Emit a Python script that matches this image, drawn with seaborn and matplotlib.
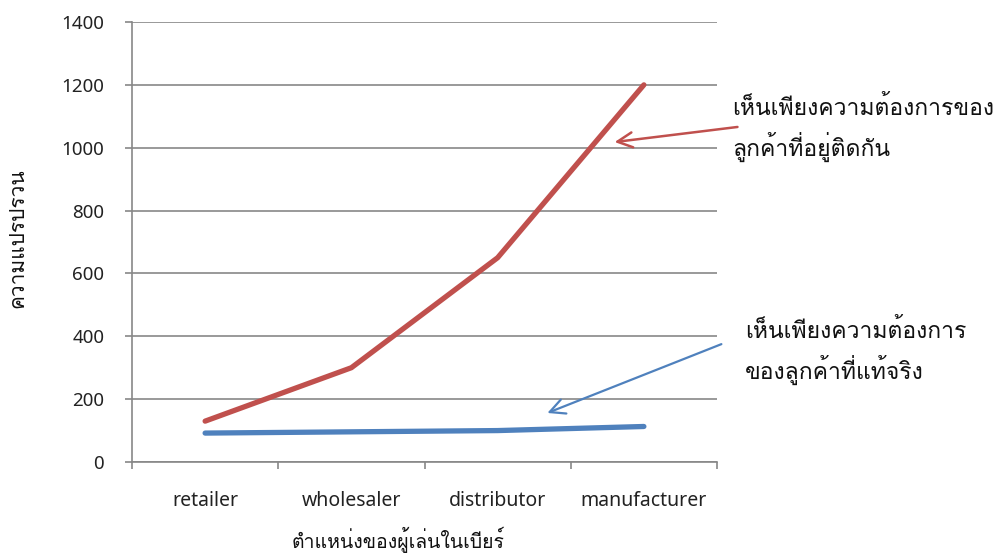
import matplotlib
matplotlib.use("Agg")
import matplotlib.pyplot as plt
from matplotlib import font_manager
from fontTools.ttLib import TTFont
from fontTools.pens.boundsPen import BoundsPen
import seaborn as sns
import pandas as pd

# Supply-chain stages and the variance observed at each one
stages = ["retailer", "wholesaler", "distributor", "manufacturer"]
variance_seen = [130, 300, 650, 1200]      # demand seen from the adjacent customer
variance_true = [92, 96, 100, 113]         # actual end-customer demand
y_ticks = [0, 200, 400, 600, 800, 1000, 1200, 1400]

x_title = "ตำแหน่งของผู้เล่นในเบียร์"
y_title = "ความแปรปรวน"
note_seen = "เห็นเพียงความต้องการของ\nลูกค้าที่อยู่ติดกัน"
note_true = "เห็นเพียงความต้องการ\nของลูกค้าที่แท้จริง"

RED = "#C0504D"
BLUE = "#4F81BD"
GREY = "#878787"
LATIN = ["Noto Sans", "DejaVu Sans"]


def stacks_tone_marks(name):
    """True if the font's plain tone mark sits above sara ii without shaping."""
    try:
        path = font_manager.findfont(font_manager.FontProperties(family=name),
                                     fallback_to_default=False)
        tt = TTFont(path, fontNumber=0)
        cmap = tt.getBestCmap()
        gs = tt.getGlyphSet()

        def box(cp):
            pen = BoundsPen(gs)
            gs[cmap[cp]].draw(pen)
            return pen.bounds

        return box(0x0E48)[1] >= box(0x0E35)[3] - 10
    except Exception:
        return False


candidates = ["Sarabun", "Noto Sans Thai Looped", "IBM Plex Sans Thai Looped",
              "Loma", "Noto Sans Thai", "Anuphan"]
thai_font = next((c for c in candidates if stacks_tone_marks(c)), "Loma")
THAI = [thai_font, "DejaVu Sans"]

sns.set_theme(style="white")
plt.rcParams["font.family"] = LATIN

df = pd.DataFrame({
    "stage": stages * 2,
    "variance": variance_seen + variance_true,
    "series": ["seen"] * len(stages) + ["true"] * len(stages),
})

fig = plt.figure(figsize=(9.94, 5.54), dpi=100)
ax = fig.add_axes([132 / 994, 1 - 462 / 554, (717 - 132) / 994, (462 - 22) / 554])

sns.lineplot(data=df, x="stage", y="variance", hue="series",
             palette={"seen": RED, "true": BLUE}, linewidth=3.8,
             legend=False, ax=ax, sort=False)
for ln in ax.lines:
    ln.set_solid_capstyle("round")
    ln.set_solid_joinstyle("round")

ax.set_xlim(-0.5, len(stages) - 0.5)
ax.set_ylim(y_ticks[0], y_ticks[-1])

# category boundaries carry the tick marks, labels sit at the centres
ax.set_xticks([i - 0.5 for i in range(len(stages) + 1)])
ax.set_xticklabels([])
ax.set_xticks(range(len(stages)), minor=True)
ax.set_xticklabels(stages, minor=True, fontsize=14, color="#222222")
ax.tick_params(axis="x", which="major", length=5, width=1.2, color=GREY, direction="out", bottom=True)
ax.tick_params(axis="x", which="minor", length=0, pad=21)

ax.set_yticks(y_ticks)
ax.set_yticklabels([str(v) for v in y_ticks], fontsize=13.5, color="#222222")
ax.tick_params(axis="y", length=5, width=1.2, color=GREY, direction="out", pad=15, left=True)

ax.grid(axis="y", color=GREY, linewidth=1.2)
ax.grid(axis="x", visible=False)
ax.set_axisbelow(True)
for side in ("top", "right"):
    ax.spines[side].set_visible(False)
for side in ("left", "bottom"):
    ax.spines[side].set_color(GREY)
    ax.spines[side].set_linewidth(1.2)
    ax.spines[side].set_zorder(3)

ax.set_xlabel("")
ax.set_ylabel("")
fig.text(398 / 994, 1 - 540 / 554, x_title, ha="center", va="center",
         fontsize=14, family=THAI, color="#111111")
fig.text(18 / 994, 1 - 238 / 554, y_title, ha="center", va="center",
         rotation=90, fontsize=15, family=THAI, color="#111111")

# callout arrows pointing at each curve
ax.annotate("", xy=(2.80, 1018), xytext=(3.64, 1066), xycoords="data",
            annotation_clip=False,
            arrowprops=dict(arrowstyle="->,head_length=0.9,head_width=0.45",
                            color=RED, lw=1.8, shrinkA=0, shrinkB=0))
ax.annotate("", xy=(2.34, 156), xytext=(3.53, 375), xycoords="data",
            annotation_clip=False,
            arrowprops=dict(arrowstyle="->,head_length=0.9,head_width=0.45",
                            color=BLUE, lw=1.6, shrinkA=0, shrinkB=0))

fig.text(732 / 994, 1 - 129 / 554, note_seen, ha="left", va="center",
         fontsize=16.5, family=THAI, color="#111111", linespacing=1.5)
fig.text(745 / 994, 1 - 352 / 554, note_true, ha="left", va="center",
         fontsize=16.5, family=THAI, color="#111111", linespacing=1.5)

fig.savefig("out.png", dpi=100)
